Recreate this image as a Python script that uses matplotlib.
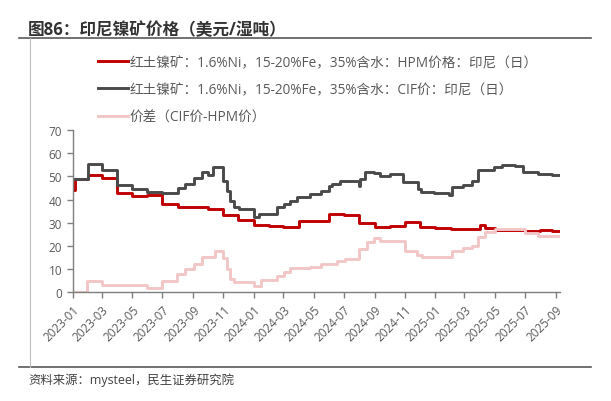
import pandas as pd
import matplotlib
matplotlib.use("Agg")
import matplotlib.pyplot as plt
import matplotlib.dates as mdates
from matplotlib.lines import Line2D
from matplotlib.ticker import MultipleLocator

plt.rcParams['font.family'] = ['Open Sans', 'Noto Sans CJK SC', 'DejaVu Sans']
plt.rcParams['axes.unicode_minus'] = False

# 红土镍矿 HPM 价格（阶梯）
hpm_dates = ['2023-01-02', '2023-01-05', '2023-02-01', '2023-03-01', '2023-04-01', '2023-05-01',
             '2023-06-01', '2023-07-01', '2023-08-01', '2023-09-01', '2023-10-01', '2023-11-01',
             '2023-12-01', '2024-01-01', '2024-02-01', '2024-03-01', '2024-04-01', '2024-06-01',
             '2024-07-01', '2024-08-01', '2024-09-01', '2024-10-01', '2024-11-01', '2024-12-01',
             '2025-01-01', '2025-02-01', '2025-04-01', '2025-04-12', '2025-05-01', '2025-07-01',
             '2025-08-01', '2025-08-24', '2025-09-10']
hpm_vals = [44, 48.7, 50.5, 49.4, 43, 41.5, 41.9, 38, 36.6, 36.9, 36, 33.3,
            31.2, 29, 28.7, 28.3, 30.9, 33.8, 33.5, 29.9, 28, 28.7, 30.2, 28.3,
            27.9, 27.2, 29, 27.6, 26.9, 26.6, 26.9, 26.3, 26.3]

# 红土镍矿 CIF 价
cif_dates = ['2023-01-02', '2023-02-01', '2023-03-01', '2023-04-01', '2023-05-01', '2023-06-01',
             '2023-07-01', '2023-08-01', '2023-08-16', '2023-09-02', '2023-09-19', '2023-10-02',
             '2023-10-12', '2023-10-31', '2023-11-08', '2023-11-15', '2023-11-22', '2023-12-02',
             '2024-01-01', '2024-01-11', '2024-02-17', '2024-03-02', '2024-03-15', '2024-03-29',
             '2024-04-24', '2024-05-15', '2024-05-31', '2024-06-07', '2024-06-24', '2024-07-31',
             '2024-08-03', '2024-08-13', '2024-08-30', '2024-09-12', '2024-10-02', '2024-10-29',
             '2024-11-28', '2024-12-04', '2024-12-29', '2025-01-28', '2025-02-04', '2025-02-27',
             '2025-03-16', '2025-03-29', '2025-04-29', '2025-05-15', '2025-06-11', '2025-06-28',
             '2025-07-28', '2025-08-24', '2025-09-10']
cif_vals = [48.7, 55.5, 52.6, 46.3, 44.5, 43.4,
            42.8, 45, 46.7, 49.3, 52, 50.7,
            54.2, 47.8, 43.8, 39.5, 36.6, 35.8,
            32.3, 33.6, 36.6, 38, 39.2, 41.2,
            42.4, 43.8, 46, 46.7, 47.8, 46,
            48.9, 52, 51.3, 50.3, 51, 47.4,
            44.5, 43.2, 42.8, 42, 45.5, 46.4,
            47.8, 52.9, 53.9, 54.9, 54.5, 51.7,
            51, 50.6, 50.6]

# 价差（CIF价-HPM价）
diff_dates = ['2023-01-02', '2023-01-30', '2023-03-01', '2023-05-31', '2023-06-30', '2023-07-30',
              '2023-08-16', '2023-09-02', '2023-09-19', '2023-10-16', '2023-10-31', '2023-11-08',
              '2023-11-15', '2023-11-22', '2024-01-01', '2024-01-15', '2024-02-17', '2024-03-02',
              '2024-03-15', '2024-04-24', '2024-05-15', '2024-06-17', '2024-07-04', '2024-07-31',
              '2024-08-17', '2024-08-30', '2024-09-12', '2024-11-01', '2024-11-25', '2024-12-05',
              '2025-02-04', '2025-02-27', '2025-03-16', '2025-03-29', '2025-04-12', '2025-05-02',
              '2025-07-01', '2025-07-28', '2025-09-10']
diff_vals = [0, 5, 3, 1.9, 5, 7.9,
             10, 12.2, 15.1, 18, 15, 10,
             5.7, 4.3, 2.9, 5.3, 7.2, 8.6,
             10.5, 11.1, 12.2, 13.4, 14.4, 18.7,
             21.6, 23.3, 22.3, 18, 16.1, 15.1,
             18, 19.1, 20.1, 24, 25.9, 27.3,
             25.4, 24.1, 24.1]

labels = ['红土镍矿：1.6%Ni，15-20%Fe，35%含水：HPM价格：印尼（日）',
          '红土镍矿：1.6%Ni，15-20%Fe，35%含水：CIF价：印尼（日）',
          '价差（CIF价-HPM价）']
colors = ['#C00000', '#4A4A4A', '#F2C6C6']

fig = plt.figure(figsize=(6.11, 4.02), dpi=100)
ax = fig.add_axes([0.1188, 0.2704, 0.798, 0.4037])

series = [(hpm_dates, hpm_vals), (cif_dates, cif_vals), (diff_dates, diff_vals)]
for (d, v), lab, c in zip(series, labels, colors):
    ax.step(pd.to_datetime(d), v, where='post', color=c, lw=2.1, label=lab)

ax.set_ylim(0, 70)
ax.yaxis.set_major_locator(MultipleLocator(10))
ax.set_xlim(pd.Timestamp('2023-01-01'), pd.Timestamp('2025-09-10'))
ax.xaxis.set_major_locator(mdates.MonthLocator(bymonth=[1, 3, 5, 7, 9, 11]))
ax.xaxis.set_major_formatter(mdates.DateFormatter('%Y-%m'))

for s in ['top', 'right']:
    ax.spines[s].set_visible(False)
for s in ['left', 'bottom']:
    ax.spines[s].set_color('#7F7F7F')
    ax.spines[s].set_linewidth(1.0)
ax.tick_params(axis='both', colors='#7F7F7F', labelcolor='#595959', labelsize=8.5,
               length=4, width=1.0)
for lbl in ax.get_xticklabels():
    lbl.set_rotation(45)
    lbl.set_ha('right')
    lbl.set_rotation_mode('anchor')

fig.legend(loc='upper left', bbox_to_anchor=(0.1604, 0.861), frameon=False,
           fontsize=9.8, handlelength=2.2, handletextpad=0.14, labelspacing=0.9,
           borderpad=0, borderaxespad=0, labelcolor='#595959')

fig.text(0.046, 0.925, '图86：印尼镍矿价格（美元/湿吨）', fontsize=12, fontweight='bold',
         color='#333333', va='center', ha='left')
fig.add_artist(Line2D([0.031, 0.967], [0.902, 0.902], color='#595959', lw=1.2))
fig.add_artist(Line2D([0.031, 0.967], [0.0838, 0.0838], color='#595959', lw=1.2))
fig.add_artist(Line2D([0.049, 0.049], [0.0838, 0.902], color='#BFBFBF', lw=0.8))
fig.text(0.046, 0.054, '资料来源：mysteel，民生证券研究院', fontsize=8.9, color='#404040',
         va='center', ha='left')

fig.savefig('out.png', dpi=100)
